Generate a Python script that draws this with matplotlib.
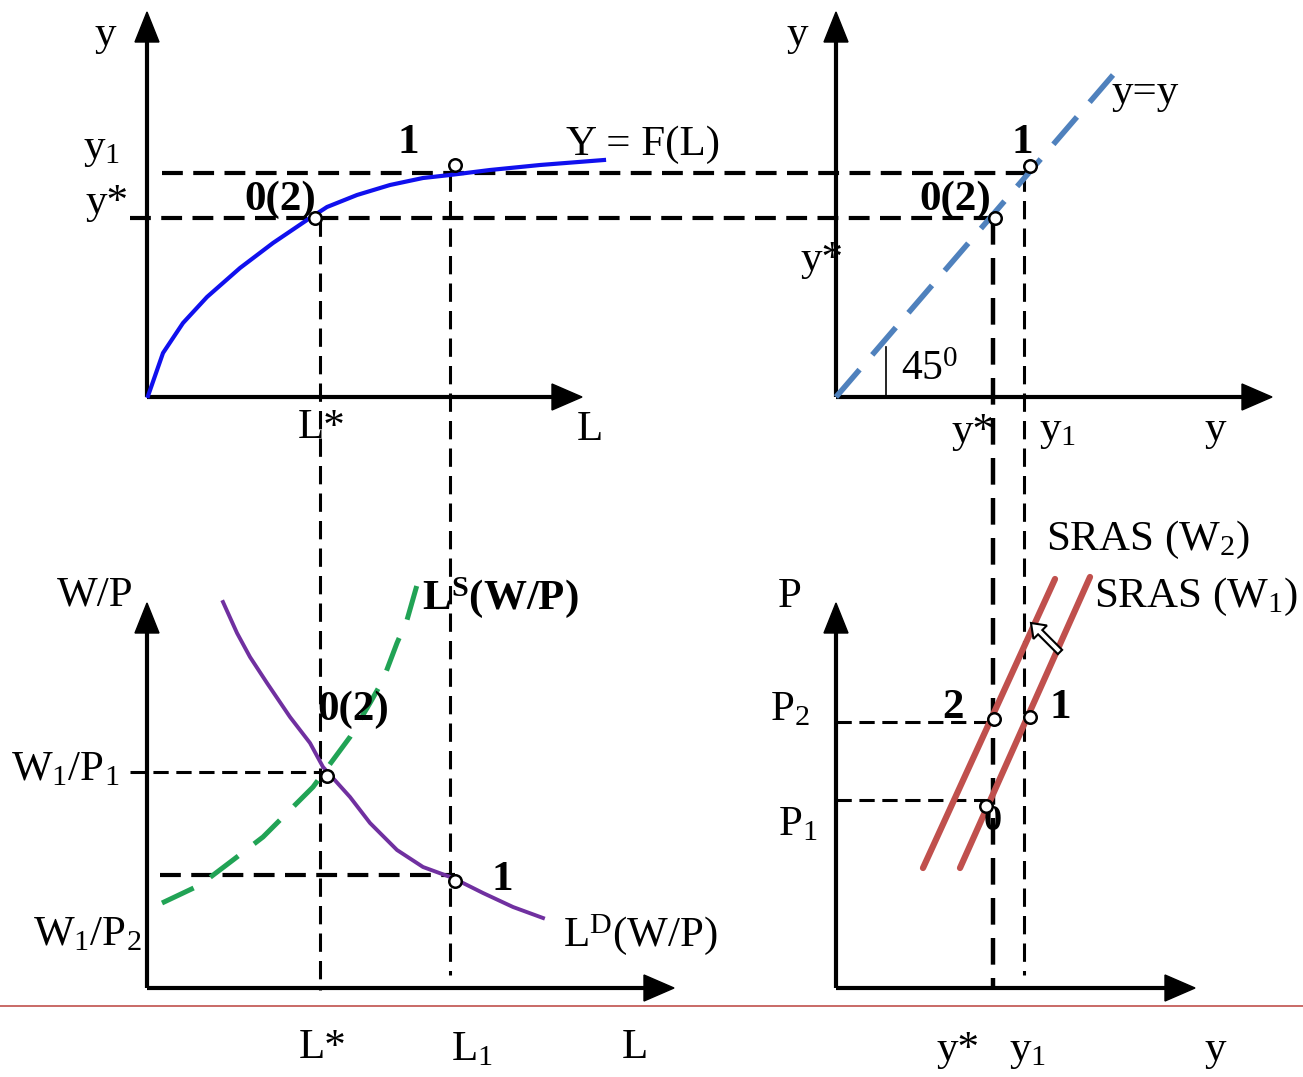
import matplotlib
matplotlib.use('Agg')
import numpy as np
import matplotlib.pyplot as plt
from matplotlib.patches import FancyArrow

plt.rcParams['font.family'] = ['Liberation Serif', 'DejaVu Serif']
plt.rcParams['mathtext.default'] = 'regular'

# --- data (diagram coordinates, pixel-like units, y grows downward) ---
# production function Y = F(L)
prod_L = [148, 163, 183, 207, 240, 273, 307, 327, 357, 390, 423, 450, 490, 540, 604]
prod_y = [396, 353, 323, 297, 268, 243, 220, 207, 195, 185, 178, 175, 170, 165, 160]
# 45 degree line
diag_x = [836, 1113]
diag_y = [397, 75]
# labour demand and supply
ld_x = [223, 237, 250, 267, 290, 310, 323, 350, 370, 397, 423, 453, 483, 513, 543]
ld_y = [602, 633, 657, 683, 717, 743, 767, 797, 823, 850, 867, 878, 893, 907, 918]
ls_x = [162, 200, 233, 263, 290, 313, 333, 350, 370, 383, 397, 407, 417]
ls_y = [903, 885, 860, 837, 810, 787, 760, 737, 703, 680, 643, 620, 585]
# SRAS curves
sras2_x = [923, 1055]
sras2_y = [868, 579]
sras1_x = [960, 1090]
sras1_y = [868, 577]

# equilibrium points (open circles)
pts_x = [315, 455, 995, 1030, 327, 455, 994, 1030, 986]
pts_y = [218, 165, 218, 166, 776, 881, 719, 717, 806]

# guide lines (dashed)
hguides = [(173, 162, 1030, 3.0), (218, 130, 993, 3.0), (772, 130, 327, 2.2),
           (875, 160, 455, 3.0), (722, 836, 994, 2.2), (800, 836, 985, 2.2)]
vguides = [(320, 218, 990, 2.2), (450, 173, 975, 2.2), (993, 218, 990, 3.2),
           (1024, 173, 975, 2.2)]

# axes: (origin x, origin y, x tip, y tip)
axes_sets = [(147, 397, 582, 12), (836, 397, 1272, 12),
             (147, 988, 674, 603), (836, 988, 1195, 603)]

labels = [
    ('y', 105, 35, 'normal'), ('y$_1$', 102, 150, 'normal'), ('y*', 107, 203, 'normal'),
    ('0(2)', 280, 200, 'bold'), ('1', 408, 143, 'bold'), ('Y = F(L)', 643, 145, 'normal'),
    ('L*', 322, 428, 'normal'), ('L', 590, 430, 'normal'),
    ('y', 797, 35, 'normal'), ('y=y', 1145, 93, 'normal'), ('1', 1022, 143, 'bold'),
    ('0(2)', 955, 200, 'bold'), ('y*', 822, 260, 'normal'),
    ('y*', 973, 432, 'normal'), ('y$_1$', 1058, 432, 'normal'), ('y', 1215, 430, 'normal'),
    ('W/P', 95, 595, 'normal'), ('L$^S$(W/P)', 500, 598, 'bold'), ('0(2)', 353, 710, 'bold'),
    ('W$_1$/P$_1$', 65, 770, 'normal'), ('W$_1$/P$_2$', 87, 935, 'normal'),
    ('1', 502, 880, 'bold'), ('L$^D$(W/P)', 640, 935, 'normal'),
    ('L*', 323, 1048, 'normal'), ('L$_1$', 472, 1050, 'normal'), ('L', 635, 1048, 'normal'),
    ('P', 790, 597, 'normal'), ('SRAS (W$_2$)', 1148, 540, 'normal'),
    ('SRAS (W$_1$)', 1196, 597, 'normal'), ('P$_2$', 790, 710, 'normal'),
    ('2', 953, 708, 'bold'), ('1', 1060, 708, 'bold'), ('P$_1$', 798, 825, 'normal'),
    ('y*', 958, 1050, 'normal'), ('y$_1$', 1028, 1052, 'normal'), ('y', 1215, 1050, 'normal'),
]

fig = plt.figure(figsize=(13.03, 10.77), dpi=100)
ax = fig.add_axes([0, 0, 1, 1])
ax.set_xlim(0, 1303)
ax.set_ylim(1077, 0)
ax.axis('off')

# dashed guides
for y, x0, x1, lw in hguides:
    ax.plot([x0, x1], [y, y], color='k', lw=lw, dashes=(5, 2.5), zorder=2)
for x, y0, y1, lw in vguides:
    ax.plot([x, x], [y0, y1], color='k', lw=lw, dashes=(6, 3), zorder=2)

# axes with arrow heads
for ox, oy, tx, ty in axes_sets:
    ax.plot([ox, tx - 20], [oy, oy], color='k', lw=3, zorder=3, solid_capstyle='butt')
    ax.plot([ox, ox], [oy, ty + 20], color='k', lw=3, zorder=3, solid_capstyle='butt')
    ax.fill([tx, tx - 30, tx - 30], [oy, oy - 13, oy + 13], color='k', zorder=3)
    ax.fill([ox, ox - 12, ox + 12], [ty, ty + 30, ty + 30], color='k', zorder=3)

# curves
ax.plot(prod_L, prod_y, color='#1010ee', lw=3, zorder=4, solid_joinstyle='round')
ax.plot(diag_x, diag_y, color='#4f81bd', lw=4, dashes=(6.5, 3.5), zorder=4)
ax.plot(ld_x, ld_y, color='#7030a0', lw=2.8, zorder=4, solid_joinstyle='round')
ax.plot(ls_x, ls_y, color='#21a355', lw=3.6, dashes=(7, 4), zorder=4)
ax.plot(sras2_x, sras2_y, color='#c0504d', lw=4.5, solid_capstyle='round', zorder=4)
ax.plot(sras1_x, sras1_y, color='#c0504d', lw=4.5, solid_capstyle='round', zorder=4)

# 45 degree marker
ax.plot([886, 886], [347, 397], color='k', lw=1.2, zorder=3)
ax.text(930, 370, '45$^0$', fontsize=30, ha='center', va='center', zorder=6)

# shift arrow (hollow)
ax.add_patch(FancyArrow(1060, 652, -29, -29, width=6, head_width=19, head_length=13,
                        length_includes_head=True, fc='white', ec='k', lw=1.5, zorder=6))

# bottom red rule
ax.plot([0, 1303], [1006, 1006], color='#c0504d', lw=1.2, zorder=1)

# points
ax.plot(pts_x, pts_y, 'o', ms=9, mfc='white', mec='k', mew=1.8, zorder=7)
ax.text(993, 822, '0', fontsize=26, fontweight='bold', ha='center', va='center', zorder=6)

for txt, x, y, w in labels:
    ax.text(x, y, txt, fontsize=31, fontweight=w, ha='center', va='center', zorder=8)

fig.savefig('out.png', dpi=100)
